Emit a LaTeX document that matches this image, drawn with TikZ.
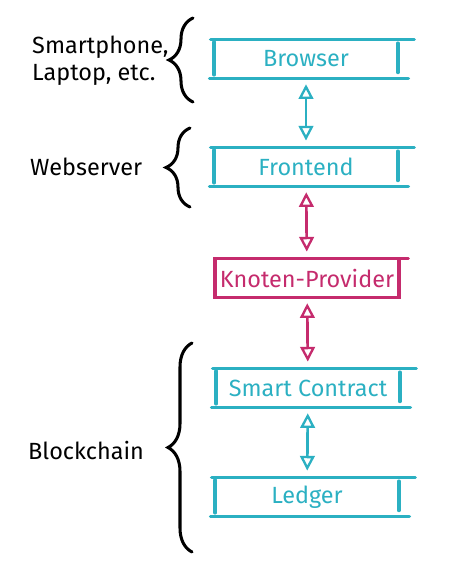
\documentclass[tikz,border=0pt]{standalone}
\usepackage{fontspec}
\setmainfont{Fira Sans}
\usetikzlibrary{arrows.meta,positioning,decorations.pathreplacing}
\definecolor{sketchcyan}{HTML}{2BB0C2}
\definecolor{sketchpink}{HTML}{C52B6D}

\tikzset{
  pen/.style={line width=2.8pt, line cap=round},
  layer/.style={minimum width=5.5cm, minimum height=1.15cm, inner sep=0pt, font=\fontsize{20}{23}\selectfont, text=#1},
  link/.style={line width=2.3pt, line cap=round, #1, {Triangle[open,length=4.4mm,width=4.4mm,line width=2pt]}-{Triangle[open,length=4.4mm,width=4.4mm,line width=2pt]}, shorten <=5pt, shorten >=6pt},
  group/.style={black, line width=2.6pt, line cap=round, decorate, decoration={brace, amplitude=0.72cm}},
  tag/.style={font=\fontsize{20}{23}\selectfont, align=left, anchor=west, inner sep=0pt}
}

% open hand-drawn frame round a layer node
\newcommand{\layerframe}[2]{%
  \draw[pen,#2] ([yshift=-2pt]#1.north west) -- ([yshift=3pt]#1.south west);
  \draw[pen,#2] ([xshift=-3pt]#1.north west) -- ([xshift=14pt]#1.north east);
  \draw[pen,#2] ([yshift=-3pt]#1.north east) -- ([yshift=5pt]#1.south east);
  \draw[pen,#2] ([xshift=-4pt]#1.south west) -- ([xshift=9pt]#1.south east);
}

\begin{document}
\begin{tikzpicture}[x=0.03cm, y=-0.03cm]
  \useasboundingbox (0,0) rectangle (474,586);

  % layers
  \node[layer=sketchcyan] (browser) at (306,59) {Browser};
  \node[layer=sketchcyan] (frontend) at (306,167) {Frontend};
  \node[layer=sketchpink] (provider) at (307,278) {Knoten-Provider};
  \node[layer=sketchcyan] (contract) at (308,388) {Smart Contract};
  \node[layer=sketchcyan] (ledger) at (307,497) {Ledger};

  \layerframe{browser}{sketchcyan}
  \layerframe{frontend}{sketchcyan}
  \draw[pen,sketchpink] (provider.north west) rectangle (provider.south east);
  \draw[pen,sketchpink] (provider.north east) -- ([xshift=8pt]provider.north east);
  \layerframe{contract}{sketchcyan}
  \layerframe{ledger}{sketchcyan}

  \draw[link=sketchcyan] (browser) -- (frontend);
  \draw[link=sketchpink] (frontend) -- (provider);
  \draw[link=sketchpink] (provider) -- (contract);
  \draw[link=sketchcyan] (contract) -- (ledger);

  % groups on the left
  \coordinate (devlo) at (193,102);
  \coordinate (devhi) at (193,18);
  \coordinate (weblo) at (190,207);
  \coordinate (webhi) at (190,128);
  \coordinate (chainlo) at (192,552);
  \coordinate (chainhi) at (192,343);

  \draw[group] (devlo) -- (devhi);
  \draw[group] (weblo) -- (webhi);
  \draw[group] (chainlo) -- (chainhi);

  \node[tag] (devices) at (32,61) {Smartphone,\\Laptop, etc.};
  \node[tag] (webserver) at (30,167) {Webserver};
  \node[tag] (blockchain) at (28,450) {Blockchain};
\end{tikzpicture}
\end{document}
